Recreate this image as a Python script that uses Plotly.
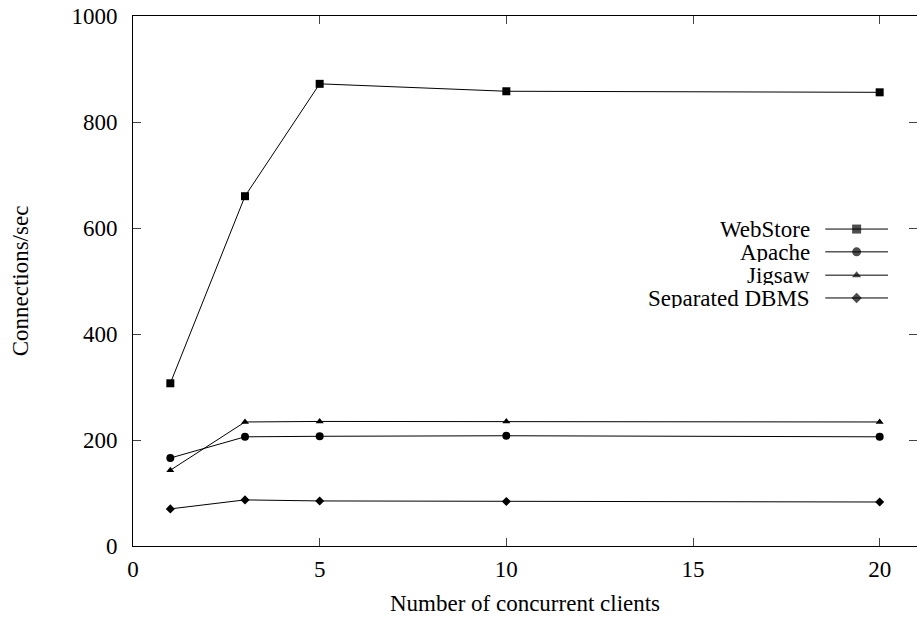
import plotly.graph_objects as go

clients = [1, 3, 5, 10, 20]
webstore = [307, 660, 872, 858, 856]
apache = [166, 206, 207, 208, 206]
jigsaw = [143, 234, 235, 235, 234]
separated = [70, 87, 85, 84, 83]

names = ["WebStore", "Apache", "Jigsaw", "Separated DBMS"]
series = [webstore, apache, jigsaw, separated]
symbols = ["square", "circle", "triangle-up", "diamond"]
sizes = [8, 8, 7, 7]

font = dict(family="Liberation Serif, Times New Roman, serif", size=23, color="black")

fig = go.Figure()
for n, s, sym, sz in zip(names, series, symbols, sizes):
    fig.add_trace(go.Scatter(x=clients, y=s, mode="lines+markers", name=n,
                             line=dict(color="black", width=1),
                             marker=dict(symbol=sym, size=sz, color="black"),
                             showlegend=False))

# custom legend (text on left, sample on right) using an overlay axis
leg_y = [0.598, 0.555, 0.511, 0.468]
for n, sym, sz, yy in zip(names, symbols, sizes, leg_y):
    fig.add_trace(go.Scatter(x=[0.883, 0.923, 0.963], y=[yy, yy, yy], mode="lines+markers",
                             xaxis="x2", yaxis="y2", showlegend=False, hoverinfo="skip",
                             line=dict(color="black", width=1),
                             marker=dict(symbol=sym, size=[0, sz + 1, 0], color="black",
                                         line=dict(width=0))))
    fig.add_annotation(x=0.866, y=yy, xref="paper", yref="paper", text=n, showarrow=False,
                       xanchor="right", yanchor="middle", height=20, font=font)

fig.update_layout(
    width=917, height=620,
    margin=dict(l=133, r=0, t=16, b=74),
    paper_bgcolor="white", plot_bgcolor="white",
    font=font,
    xaxis=dict(range=[0, 21], tickvals=[0, 5, 10, 15, 20], ticks="inside", ticklen=8,
               showline=True, linecolor="black", linewidth=1, mirror="ticks",
               showgrid=False, zeroline=False, tickfont=font, ticklabelstandoff=2,
               title=dict(text="Number of concurrent clients", font=font, standoff=14)),
    yaxis=dict(range=[0, 1000], tickvals=[0, 200, 400, 600, 800, 1000], ticks="inside", ticklen=8,
               showline=True, linecolor="black", linewidth=1, mirror="ticks",
               showgrid=False, zeroline=False, tickfont=font, ticklabelstandoff=10,
               title=dict(text="Connections/sec", font=font, standoff=36)),
    xaxis2=dict(domain=[0, 1], range=[0, 1], overlaying="x", visible=False, anchor="y2"),
    yaxis2=dict(domain=[0, 1], range=[0, 1], overlaying="y", visible=False, anchor="x2"),
)

fig.write_html("out.html")
